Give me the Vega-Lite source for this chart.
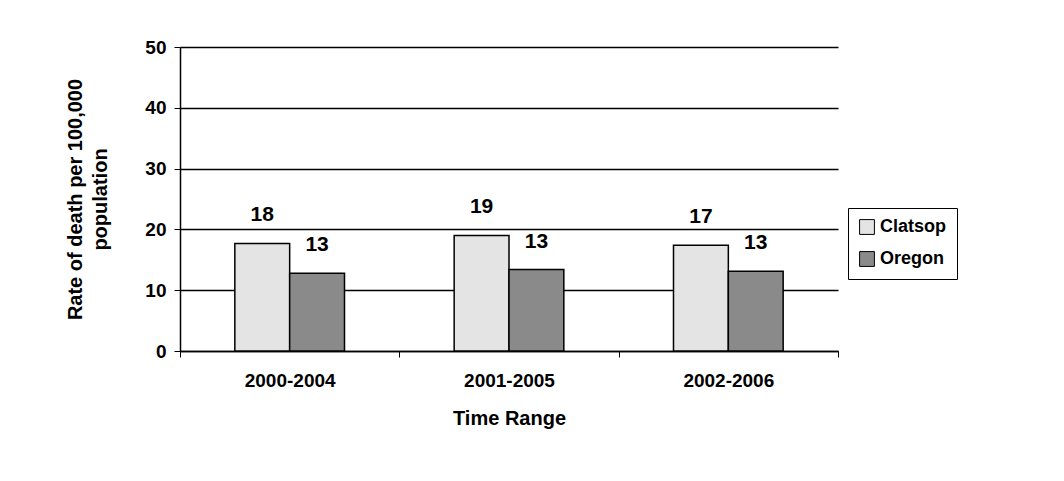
{
  "$schema": "https://vega.github.io/schema/vega-lite/v6.json",
  "autosize": "none",
  "width": 658,
  "height": 304,
  "padding": {"left": 180, "top": 47, "right": 226, "bottom": 130},
  "background": "white",
  "data": {
    "values": [
      {"range": "2000-2004", "area": "Clatsop", "rate": 17.7, "label": "18"},
      {"range": "2000-2004", "area": "Oregon", "rate": 12.8, "label": "13"},
      {"range": "2001-2005", "area": "Clatsop", "rate": 19.0, "label": "19"},
      {"range": "2001-2005", "area": "Oregon", "rate": 13.4, "label": "13"},
      {"range": "2002-2006", "area": "Clatsop", "rate": 17.4, "label": "17"},
      {"range": "2002-2006", "area": "Oregon", "rate": 13.1, "label": "13"}
    ]
  },
  "encoding": {
    "x": {
      "field": "range", "type": "nominal", "title": "Time Range",
      "scale": {"paddingInner": 0, "paddingOuter": 0},
      "axis": {"labelAngle": 0, "labelPadding": 14, "titlePadding": 18, "tickSize": 6, "tickBand": "extent", "domainColor": "black", "tickColor": "black"}
    },
    "xOffset": {"field": "area", "scale": {"paddingInner": 0, "paddingOuter": 1.19}},
    "y": {
      "field": "rate", "type": "quantitative",
      "title": ["Rate of death per 100,000", "population"],
      "scale": {"domain": [0, 50]},
      "axis": {"values": [0, 10, 20, 30, 40, 50], "grid": true, "gridColor": "black", "gridWidth": 1.5, "tickSize": 6, "labelPadding": 8, "titlePadding": 34, "domainColor": "black", "tickColor": "black"}
    }
  },
  "layer": [
    {
      "mark": {"type": "bar", "stroke": "black", "strokeWidth": 1.5},
      "encoding": {
        "color": {
          "field": "area", "type": "nominal", "title": null,
          "scale": {"domain": ["Clatsop", "Oregon"], "range": ["#e4e4e4", "#8a8a8a"]},
          "legend": {"orient": "none", "legendX": 668, "legendY": 161, "strokeColor": "black", "padding": 10, "symbolType": "square", "symbolSize": 220, "symbolStrokeColor": "black", "symbolStrokeWidth": 1, "labelFontSize": 18, "labelFontWeight": "bold", "labelFont": "Liberation Sans", "labelColor": "black", "rowPadding": 12, "labelLimit": 300, "symbolOpacity": 1}
        }
      }
    },
    {
      "mark": {"type": "text", "baseline": "bottom", "dy": -18, "font": "Liberation Sans", "fontWeight": "bold", "fontSize": 21},
      "encoding": {"text": {"field": "label"}}
    }
  ],
  "config": {
    "view": {"stroke": null},
    "axis": {"labelFont": "Liberation Sans", "titleFont": "Liberation Sans", "labelFontSize": 19, "titleFontSize": 20, "labelFontWeight": "bold", "titleFontWeight": "bold", "labelColor": "black", "titleColor": "black", "domainWidth": 1.5, "titleLineHeight": 25}
  }
}
